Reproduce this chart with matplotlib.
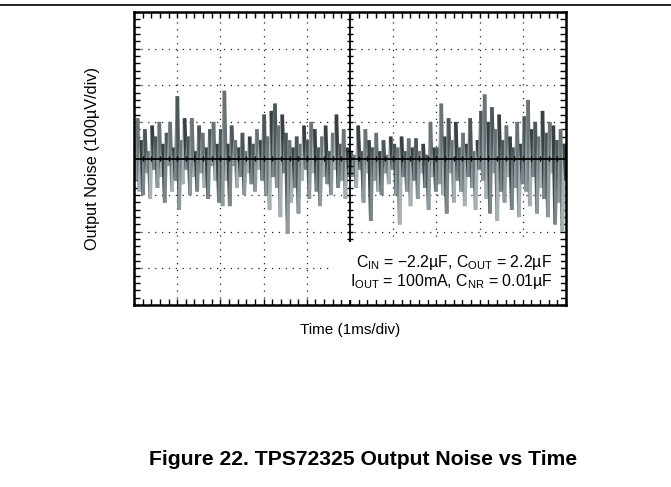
import matplotlib
matplotlib.use("Agg")
import matplotlib.pyplot as plt
import numpy as np
from matplotlib.collections import LineCollection
from matplotlib.patches import Rectangle

plt.rcParams['font.family'] = ['Liberation Sans', 'DejaVu Sans']
plt.rcParams['mathtext.fontset'] = 'custom'
plt.rcParams['mathtext.rm'] = 'Liberation Sans'
plt.rcParams['mathtext.it'] = 'Liberation Sans'
plt.rcParams['mathtext.default'] = 'regular'

# Output noise samples in divisions (100 uV/div), 24 samples per 1 ms division
noise_div = [
    0.3,-0.6,1.1,-0.9,0.5,-1.0,0.8,-0.4,0.2,-1.1,0.9,-0.3,0.6,-0.8,1.0,-0.5,0.4,-1.2,0.7,-0.2,1.0,-0.9,0.3,-0.6,
    1.7,-1.4,0.5,-0.7,1.1,-0.3,0.6,-1.0,1.1,-0.5,0.2,-0.9,0.9,-0.4,0.7,-0.8,0.3,-1.1,0.8,-0.2,1.0,-0.6,0.4,-1.2,
    0.8,-1.3,1.85,-0.6,0.4,-1.3,0.9,-0.2,0.5,-0.8,0.3,-0.5,0.7,-1.0,0.2,-0.4,0.6,-0.7,0.4,-0.9,0.8,-0.3,0.5,-0.6,
    1.2,-1.0,0.6,-1.4,1.3,-0.5,1.5,-0.8,0.9,-1.6,1.2,-0.4,0.7,-2.05,0.5,-1.2,0.3,-0.8,0.6,-1.5,0.4,-0.6,0.9,-0.3,
    0.5,-1.1,1.0,-0.4,0.8,-0.9,0.3,-1.3,0.6,-0.5,0.9,-0.7,0.2,-1.0,0.7,-0.3,1.2,-0.8,0.4,-0.6,0.8,-1.1,0.3,-0.5,
    0.2,-0.5,0.1,-0.8,0.9,-0.3,0.2,-1.2,0.8,-0.4,0.5,-1.7,0.3,-0.6,0.7,-0.9,0.2,-1.0,0.5,-0.4,0.1,-0.7,0.6,-0.3,
    0.4,-1.0,0.3,-1.8,0.6,-0.5,0.2,-0.9,0.55,-1.3,0.3,-0.6,0.55,-1.1,0.2,-0.4,0.4,-0.8,0.1,-1.4,1.0,-0.5,0.3,-0.9,
    0.3,-0.7,1.5,-1.0,0.6,-1.5,1.1,-0.4,0.5,-1.2,1.0,-0.6,0.3,-0.9,0.7,-1.3,0.4,-0.5,1.1,-0.8,0.2,-1.4,0.5,-0.3,
    1.3,-0.6,1.75,-1.1,1.0,-1.5,1.4,-0.4,0.8,-1.7,1.2,-0.9,0.5,-1.2,0.9,-0.5,0.6,-1.4,0.3,-0.8,1.0,-1.6,0.4,-0.7,
    1.15,-0.9,1.6,-1.3,0.8,-0.5,1.0,-1.5,0.6,-0.8,1.3,-1.1,0.7,-1.6,1.0,-0.4,0.9,-1.8,0.5,-1.2,0.8,-2.0,0.4,-0.6,
]
n_xdiv = 10
n_ydiv = 8
xlabel = "Time (1ms/div)"
ylabel = "Output Noise (100µV/div)"
note1 = "C$_{IN}$ = −2.2µF, C$_{OUT}$ = 2.2µF"
note2 = "I$_{OUT}$ = 100mA, C$_{NR}$ = 0.01µF"
caption = "Figure 22. TPS72325 Output Noise vs Time"

W, H = 671, 487
fig = plt.figure(figsize=(W/100, H/100), dpi=100)
ax = fig.add_axes([134/W, 1-305/H, (566-134)/W, (305-12)/H])

y = np.array(noise_div)
x = np.linspace(0, n_xdiv, len(y))
pts = np.column_stack([x, y])
segs = np.stack([pts[:-1], pts[1:]], axis=1)
shades = ['#4d5659', '#8e9a9e', '#6a7478', '#a7b1b4', '#3a4042', '#7b868a']
cols = [shades[i % len(shades)] for i in range(len(segs))]
lc = LineCollection(segs, colors=cols, linewidths=2.6, zorder=2)
ax.add_collection(lc)

ax.set_xlim(0, n_xdiv)
ax.set_ylim(-n_ydiv/2, n_ydiv/2)

# dotted graticule
for gx in range(1, n_xdiv):
    if gx != n_xdiv//2:
        ax.axvline(gx, color='#222222', lw=0.9, ls=(0, (1, 4.5)), zorder=1)
for gy in range(-n_ydiv//2+1, n_ydiv//2):
    if gy != 0:
        ax.axhline(gy, color='#222222', lw=0.9, ls=(0, (1, 4.5)), zorder=1)

# center crosshair with ticks
ax.axhline(0, color='black', lw=1.3, zorder=3)
ax.axvline(n_xdiv/2, color='black', lw=1.3, zorder=3)
tx = np.arange(0, n_xdiv+0.001, 0.2)
ax.vlines(tx, -0.08, 0.08, color='black', lw=1.0, zorder=3)
ty = np.arange(-n_ydiv/2, n_ydiv/2+0.001, 0.2)
ax.hlines(ty, n_xdiv/2-0.07, n_xdiv/2+0.07, color='black', lw=1.0, zorder=3)

for s in ax.spines.values():
    s.set_linewidth(1.8)
ax.set_xticks(np.arange(0, n_xdiv+0.001, 0.2))
ax.set_yticks(np.arange(-n_ydiv/2, n_ydiv/2+0.001, 0.2))
ax.tick_params(which='both', direction='in', length=4, width=1.0,
               top=True, right=True, labelbottom=False, labelleft=False)

# white panel behind the condition notes
ax.add_patch(Rectangle(((334-134)/432, (305-300)/293), (561-334)/432, (300-242)/293,
                       transform=ax.transAxes, facecolor='white', edgecolor='none', zorder=4))
ax.text((552-134)/432, (305-267)/293, note1, transform=ax.transAxes, ha='right', va='baseline',
        fontsize=11.4, zorder=5)
ax.text((553-134)/432, (305-286)/293, note2, transform=ax.transAxes, ha='right', va='baseline',
        fontsize=11.4, zorder=5)

fig.text(350/W, 1-330/H, xlabel, ha='center', va='center', fontsize=11)
fig.text(92/W, 1-158/H, ylabel, ha='center', va='center', rotation=90, fontsize=11.7)
fig.text(363/W, 1-465/H, caption, ha='center', va='baseline', fontsize=15.2, fontweight='bold')

fig.add_artist(plt.Line2D([0, 1], [1-5/H, 1-5/H], color='black', lw=1.2))

fig.savefig("out.png", dpi=100)
